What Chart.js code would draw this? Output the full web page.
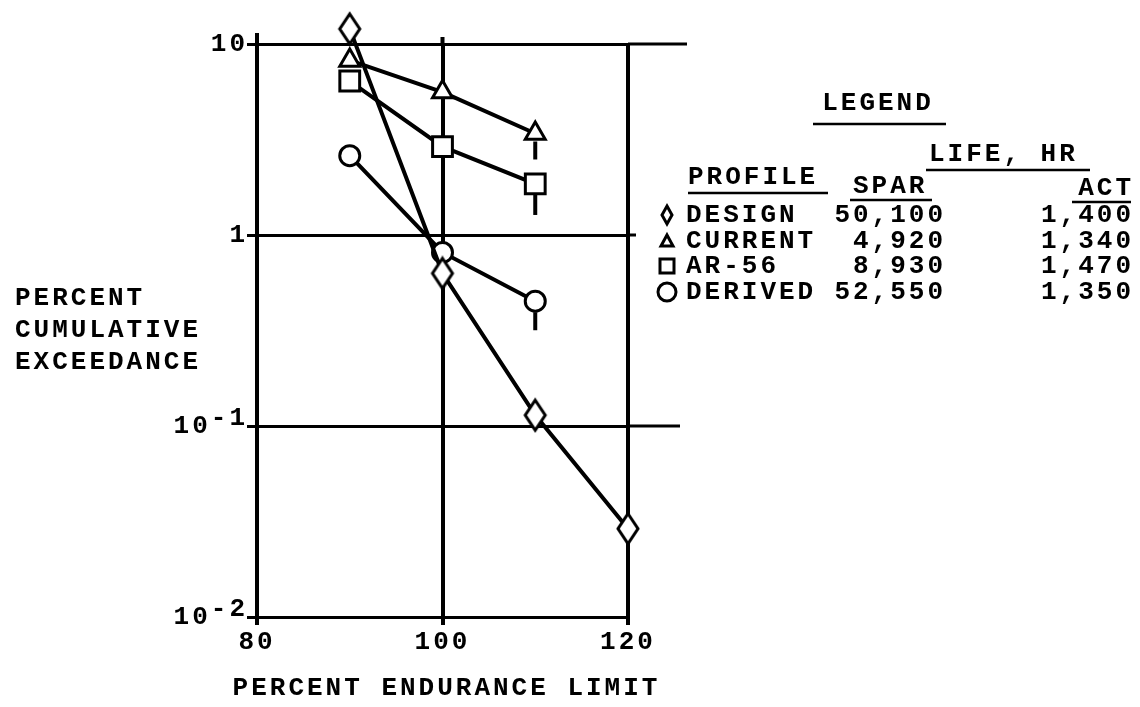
<!DOCTYPE html>
<html>
<head>
<meta charset="utf-8">
<script src="https://cdn.jsdelivr.net/npm/chart.js@4.4.1/dist/chart.umd.min.js"></script>
<style>
  html, body { margin: 0; padding: 0; background: #fff; }
  #wrap { width: 1140px; height: 707px; position: relative; }
</style>
</head>
<body>
<div id="wrap"><canvas id="chart" width="1140" height="707"></canvas></div>
<script>
// axis ticks
const xTicks = [80, 100, 120];
const yTicks = [0.01, 0.1, 1, 10];
const yTickBase = ['10', '10', '1', '10'];
const yTickExp = ['-2', '-1', '', ''];

// series (percent endurance limit vs percent cumulative exceedance)
const designX = [90, 100, 110, 120];
const designY = [12.0, 0.63, 0.114, 0.029];
const currentX = [90, 100, 110];
const currentY = [8.2, 5.6, 3.4];
const ar56X = [90, 100, 110];
const ar56Y = [6.4, 2.9, 1.85];
const derivedX = [90, 100, 110];
const derivedY = [2.6, 0.81, 0.45];

// legend table
const profiles = ['DESIGN', 'CURRENT', 'AR-56', 'DERIVED'];
const sparLife = ['50,100', '4,920', '8,930', '52,550'];
const actLife = ['1,400', '1,340', '1,470', '1,350'];

const FONT = "'Liberation Mono', 'DejaVu Sans Mono', monospace";
const TEXT = 'bold 26px ' + FONT;
const SPACING = '3px';

function pts(xs, ys) {
    return xs.map((x, i) => ({ x: x, y: ys[i] }));
}

// tall open diamond used as point style
function makeDiamond(w, h, lw) {
    const c = document.createElement('canvas');
    c.width = w + lw * 2;
    c.height = h + lw * 2;
    const g = c.getContext('2d');
    const cx = c.width / 2, cy = c.height / 2;
    g.beginPath();
    g.moveTo(cx, cy - h / 2);
    g.lineTo(cx + w / 2, cy);
    g.lineTo(cx, cy + h / 2);
    g.lineTo(cx - w / 2, cy);
    g.closePath();
    g.fillStyle = '#fff';
    g.fill();
    g.lineWidth = lw;
    g.strokeStyle = '#000';
    g.stroke();
    return c;
}
const diamond = makeDiamond(20, 30, 3);

// small legend symbols
function legendSymbol(ctx, kind, x, y) {
    ctx.save();
    ctx.strokeStyle = '#000';
    ctx.lineWidth = 3;
    ctx.beginPath();
    if (kind === 'diamond') {
        ctx.moveTo(x, y - 9); ctx.lineTo(x + 5, y); ctx.lineTo(x, y + 9); ctx.lineTo(x - 5, y); ctx.closePath();
    } else if (kind === 'triangle') {
        ctx.moveTo(x, y - 6); ctx.lineTo(x + 6, y + 5); ctx.lineTo(x - 6, y + 5); ctx.closePath();
    } else if (kind === 'square') {
        ctx.rect(x - 7, y - 7, 14, 14);
    } else {
        ctx.arc(x, y, 9, 0, Math.PI * 2);
    }
    ctx.stroke();
    ctx.restore();
}

function hline(ctx, x1, x2, y, w) {
    ctx.beginPath();
    ctx.lineWidth = w;
    ctx.moveTo(x1, y);
    ctx.lineTo(x2, y);
    ctx.stroke();
}

const extras = {
    id: 'extras',
    beforeUpdate(chart) { chart.ctx.letterSpacing = SPACING; },
    beforeDraw(chart) { chart.ctx.letterSpacing = SPACING; },
    afterDatasetsDraw(chart) {
        const ctx = chart.ctx;
        ctx.save();
        ctx.strokeStyle = '#000';
        ctx.lineWidth = 4;
        // short vertical tails below the 110 % points
        chart.data.datasets.forEach((ds, i) => {
            if (!ds.tail) return;
            const p = chart.getDatasetMeta(i).data[ds.tail.index];
            ctx.beginPath();
            ctx.moveTo(p.x, p.y + ds.tail.from);
            ctx.lineTo(p.x, p.y + ds.tail.from + ds.tail.len);
            ctx.stroke();
        });
        ctx.restore();
    },
    afterDraw(chart) {
        const ctx = chart.ctx;
        const xs = chart.scales.x, ys = chart.scales.y;
        const area = chart.chartArea;
        ctx.save();
        ctx.strokeStyle = '#000';
        ctx.fillStyle = '#000';
        ctx.letterSpacing = SPACING;

        // grid lines that run past the plot frame
        hline(ctx, area.right, 687, ys.getPixelForValue(10), 3);
        hline(ctx, area.right, 680, ys.getPixelForValue(0.1), 3);
        hline(ctx, area.right, area.right + 8, ys.getPixelForValue(1), 3);
        ctx.lineWidth = 4;
        ctx.beginPath();
        ctx.moveTo(xs.getPixelForValue(80), area.top);
        ctx.lineTo(xs.getPixelForValue(80), area.top - 11);
        ctx.moveTo(xs.getPixelForValue(100), area.top);
        ctx.lineTo(xs.getPixelForValue(100), area.top - 7);
        ctx.stroke();

        ctx.font = TEXT;
        ctx.textBaseline = 'middle';

        // y tick labels with raised exponents, at the scale's tick positions
        ys.ticks.forEach((t, i) => {
            const y = ys.getPixelForValue(t.value);
            const right = area.left - 12;
            if (yTickExp[i]) {
                ctx.textAlign = 'right';
                ctx.fillText(yTickExp[i], right + 3, y - 8);
                const w = ctx.measureText(yTickExp[i]).width;
                ctx.fillText(yTickBase[i], right + 3 - w, y);
            } else {
                ctx.textAlign = 'right';
                ctx.fillText(yTickBase[i], right + 3, y);
            }
        });

        // x axis title
        ctx.textAlign = 'center';
        ctx.fillText('PERCENT ENDURANCE LIMIT', (area.left + area.right) / 2 + 4, 688);

        // y axis title, horizontal, three lines
        ctx.textAlign = 'left';
        ctx.fillText('PERCENT', 15, 298);
        ctx.fillText('CUMULATIVE', 15, 330);
        ctx.fillText('EXCEEDANCE', 15, 362);

        // legend table
        ctx.textAlign = 'center';
        ctx.fillText('LEGEND', 878, 103);
        hline(ctx, 813, 946, 124, 2.5);

        ctx.textAlign = 'left';
        ctx.fillText('LIFE, HR', 929, 154);
        hline(ctx, 926, 1090, 170, 2.5);

        ctx.fillText('PROFILE', 688, 177);
        hline(ctx, 688, 828, 193, 2.5);
        ctx.fillText('SPAR', 853, 186);
        hline(ctx, 850, 932, 200, 2.5);
        ctx.textAlign = 'right';
        ctx.fillText('ACT', 1134, 188);
        hline(ctx, 1072, 1131, 202, 2.5);

        const rowY = [215, 241, 266, 292];
        const kinds = ['diamond', 'triangle', 'square', 'circle'];
        profiles.forEach((name, i) => {
            legendSymbol(ctx, kinds[i], 667, rowY[i]);
            ctx.textAlign = 'left';
            ctx.fillText(name, 686, rowY[i]);
            ctx.textAlign = 'right';
            ctx.fillText(sparLife[i], 946, rowY[i]);
            ctx.fillText(actLife[i], 1134, rowY[i]);
        });
        ctx.restore();
    }
};

const base = {
    type: 'line',
    borderColor: '#000',
    borderWidth: 4,
    tension: 0,
    fill: false,
    clip: false,
    pointBackgroundColor: '#fff',
    pointBorderColor: '#000',
    pointBorderWidth: 3
};

const ctx = document.getElementById('chart').getContext('2d');
new Chart(ctx, {
    type: 'line',
    data: {
        datasets: [
            Object.assign({}, base, {
                label: 'DESIGN',
                data: pts(designX, designY),
                pointStyle: diamond,
                pointRadius: 15
            }),
            Object.assign({}, base, {
                label: 'CURRENT',
                data: pts(currentX, currentY),
                pointStyle: 'triangle',
                pointRadius: 11.5,
                tail: { index: 2, from: 8, len: 18 }
            }),
            Object.assign({}, base, {
                label: 'AR-56',
                data: pts(ar56X, ar56Y),
                pointStyle: 'rect',
                pointRadius: 14,
                tail: { index: 2, from: 11, len: 20 }
            }),
            Object.assign({}, base, {
                label: 'DERIVED',
                data: pts(derivedX, derivedY),
                pointStyle: 'circle',
                pointRadius: 10,
                tail: { index: 2, from: 11, len: 18 }
            })
        ]
    },
    options: {
        responsive: false,
        animation: false,
        devicePixelRatio: 1,
        layout: {
            padding: { left: 0, top: 44, right: 512, bottom: 0 }
        },
        plugins: {
            legend: { display: false },
            tooltip: { enabled: false }
        },
        scales: {
            x: {
                type: 'linear',
                min: 80,
                max: 120,
                afterBuildTicks: function(scale) {
                    scale.ticks = xTicks.map(v => ({ value: v }));
                },
                afterFit: function(scale) {
                    scale.height = 90;
                },
                ticks: {
                    color: '#000',
                    padding: 2,
                    maxRotation: 0,
                    font: { family: FONT, size: 26, weight: 'bold' }
                },
                grid: {
                    color: '#000',
                    lineWidth: 4,
                    tickLength: 8
                },
                border: { display: false }
            },
            y: {
                type: 'logarithmic',
                min: 0.01,
                max: 10,
                afterBuildTicks: function(scale) {
                    scale.ticks = yTicks.map(v => ({ value: v }));
                },
                afterFit: function(scale) {
                    scale.width = 257;
                },
                ticks: {
                    display: false
                },
                grid: {
                    color: '#000',
                    lineWidth: 3,
                    tickLength: 10
                },
                border: { display: false }
            }
        }
    },
    plugins: [extras]
});
</script>
</body>
</html>
